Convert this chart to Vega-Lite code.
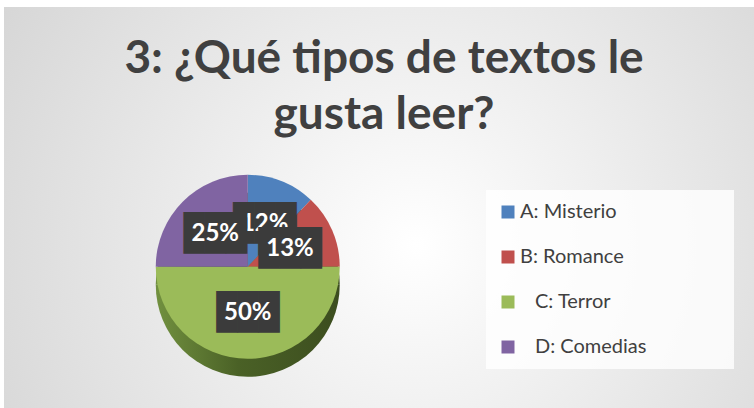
{
  "$schema": "https://vega.github.io/schema/vega-lite/v6.json",
  "width": 750,
  "height": 401,
  "autosize": {"type": "none"},
  "padding": {"left": 4, "top": 7, "right": 0, "bottom": 0},
  "background": "#ffffff",
  "title": {
    "text": ["3: ¿Qué tipos de textos le", "gusta leer?"],
    "font": "Lato",
    "fontSize": 46,
    "fontWeight": "bold",
    "color": "#404040",
    "anchor": "middle",
    "baseline": "alphabetic",
    "lineHeight": 56,
    "offset": -65,
    "dy": 103,
    "dx": 5
  },
  "data": {
    "values": [
      {"cat": "A: Misterio", "value": 12, "label": "12%"},
      {"cat": "B: Romance", "value": 13, "label": "13%"},
      {"cat": "C: Terror", "value": 50, "label": "50%"},
      {"cat": "D: Comedias", "value": 25, "label": "25%"}
    ]
  },
  "config": {
    "view": {"stroke": "#d0d0d0"},
    "legend": {
      "orient": "none",
      "legendX": 482,
      "legendY": 183,
      "symbolType": "square",
      "symbolSize": 169,
      "symbolStrokeWidth": 0,
      "labelFont": "Lato",
      "labelFontSize": 20,
      "labelColor": "#404040",
      "labelOffset": 2,
      "labelLimit": 400,
      "rowPadding": 25,
      "padding": 12,
      "fillColor": "rgba(255,255,255,0.8)"
    }
  },
  "layer": [
    {
      "mark": {
        "type": "rect",
        "fill": {
          "gradient": "radial",
          "x1": 0.55, "y1": 0.55, "x2": 0.55, "y2": 0.55, "r1": 0, "r2": 0.75,
          "stops": [
            {"offset": 0, "color": "#ffffff"},
            {"offset": 1, "color": "#cfcfcf"}
          ]
        }
      },
      "encoding": {}
    },
    {
      "mark": {
        "type": "arc",
        "outerRadius": 92,
        "x": {"expr": "width * 0.325"},
        "y": {"expr": "height * 0.648 + 18"},
        "stroke": null,
        "fill": {
          "gradient": "linear", "x1": 0, "y1": 0, "x2": 1, "y2": 0,
          "stops": [
            {"offset": 0, "color": "#71903f"},
            {"offset": 0.45, "color": "#4a6126"},
            {"offset": 1, "color": "#3c4d1f"}
          ]
        }
      },
      "encoding": {
        "theta": {"field": "value", "type": "quantitative", "stack": true},
        "order": {"field": "cat", "type": "ordinal"}
      }
    },
    {
      "mark": {
        "type": "arc",
        "outerRadius": 92,
        "x": {"expr": "width * 0.325"},
        "y": {"expr": "height * 0.648"},
        "stroke": null
      },
      "encoding": {
        "theta": {"field": "value", "type": "quantitative", "stack": true},
        "order": {"field": "cat", "type": "ordinal"},
        "color": {
          "field": "cat",
          "type": "nominal",
          "scale": {
            "domain": ["A: Misterio", "B: Romance", "C: Terror", "D: Comedias"],
            "range": ["#4f81bd", "#c0504d", "#9bbb59", "#8064a2"]
          },
          "legend": {
            "title": null,
            "labelExpr": "datum.value == 'C: Terror' ? '\u2800C: Terror' : datum.value == 'D: Comedias' ? '\u2800D: Comedias\u2800\u2800\u2800\u2800\u2800' : datum.label"
          }
        }
      }
    },
    {
      "mark": {
        "type": "text",
        "radius": 46,
        "x": {"expr": "width * 0.325"},
        "y": {"expr": "height * 0.648"},
        "font": "DejaVu Sans Mono",
        "fontSize": 35,
        "baseline": "middle",
        "align": "center",
        "color": "#3b3b3b"
      },
      "encoding": {
        "theta": {"field": "value", "type": "quantitative", "stack": true},
        "order": {"field": "cat", "type": "ordinal"},
        "text": {"condition": {"test": "datum.cat == 'A: Misterio'", "value": "███"}, "value": ""}
      }
    },
    {
      "mark": {
        "type": "text",
        "radius": 46,
        "x": {"expr": "width * 0.325"},
        "y": {"expr": "height * 0.648"},
        "font": "Lato",
        "fontWeight": "bold",
        "fontSize": 24,
        "baseline": "middle",
        "align": "center",
        "color": "#ffffff"
      },
      "encoding": {
        "theta": {"field": "value", "type": "quantitative", "stack": true},
        "order": {"field": "cat", "type": "ordinal"},
        "text": {"condition": {"test": "datum.cat == 'A: Misterio'", "field": "label"}, "value": ""}
      }
    },
    {
      "mark": {
        "type": "text",
        "radius": 46,
        "x": {"expr": "width * 0.325"},
        "y": {"expr": "height * 0.648"},
        "font": "DejaVu Sans Mono",
        "fontSize": 35,
        "baseline": "middle",
        "align": "center",
        "color": "#3b3b3b"
      },
      "encoding": {
        "theta": {"field": "value", "type": "quantitative", "stack": true},
        "order": {"field": "cat", "type": "ordinal"},
        "text": {"condition": {"test": "datum.cat != 'A: Misterio'", "value": "███"}, "value": ""}
      }
    },
    {
      "mark": {
        "type": "text",
        "radius": 46,
        "x": {"expr": "width * 0.325"},
        "y": {"expr": "height * 0.648"},
        "font": "Lato",
        "fontWeight": "bold",
        "fontSize": 24,
        "baseline": "middle",
        "align": "center",
        "color": "#ffffff"
      },
      "encoding": {
        "theta": {"field": "value", "type": "quantitative", "stack": true},
        "order": {"field": "cat", "type": "ordinal"},
        "text": {"condition": {"test": "datum.cat != 'A: Misterio'", "field": "label"}, "value": ""}
      }
    }
  ]
}
